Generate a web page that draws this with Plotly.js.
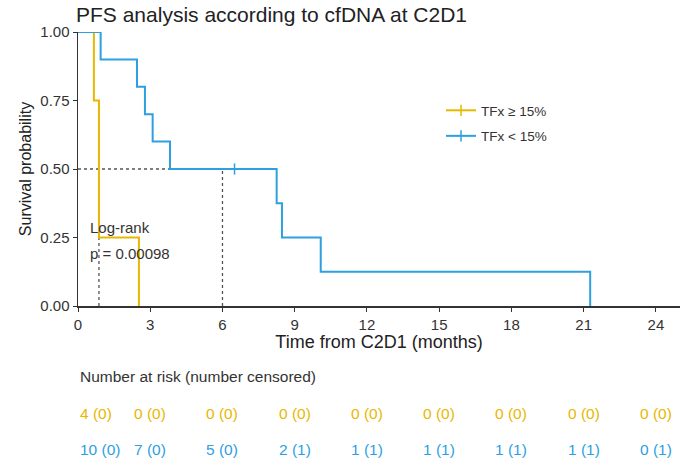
<!DOCTYPE html>
<html><head><meta charset="utf-8">
<script src="https://cdn.plot.ly/plotly-3.0.1.min.js"></script>
<style>body{margin:0;background:#fff}#chart{width:700px;height:476px}</style>
</head><body><div id="chart"></div>
<script>
// Kaplan-Meier step data
const groupNames = ["TFx \u2265 15%", "TFx < 15%"];
const groupColors = ["#E7B800", "#2E9FDF"];
const highTimes = [0, 0.66, 0.87, 2.53];
const highSurv = [1, 0.75, 0.25, 0];
const lowTimes = [0, 0.94, 2.45, 2.78, 3.10, 3.82, 8.25, 8.47, 10.08, 21.27];
const lowSurv = [1, 0.9, 0.8, 0.7, 0.6, 0.5, 0.375, 0.25, 0.125, 0];
const lowCensorTimes = [6.5];
const lowCensorSurv = [0.5];
const medianTimes = [0.87, 6.0];
const riskTimes = [0, 3, 6, 9, 12, 15, 18, 21, 24];
const riskHigh = ["4 (0)", "0 (0)", "0 (0)", "0 (0)", "0 (0)", "0 (0)", "0 (0)", "0 (0)", "0 (0)"];
const riskLow = ["10 (0)", "7 (0)", "5 (0)", "2 (1)", "1 (1)", "1 (1)", "1 (1)", "1 (1)", "0 (1)"];
const xTicks = [0, 3, 6, 9, 12, 15, 18, 21, 24];
const yTicks = [0, 0.25, 0.5, 0.75, 1];

const FONT = "Liberation Sans, Arial, sans-serif";
const traces = [];
// median reference lines
const medMax = Math.max(...medianTimes);
traces.push({x: [0, medMax], y: [0.5, 0.5], mode: "lines", line: {color: "#555", dash: "dot", width: 1.3}, showlegend: false, hoverinfo: "skip"});
medianTimes.forEach(m => traces.push({x: [m, m], y: [0, 0.5], mode: "lines", line: {color: "#555", dash: "dot", width: 1.3}, showlegend: false, hoverinfo: "skip"}));
// curves
traces.push({x: highTimes, y: highSurv, mode: "lines", line: {shape: "hv", color: groupColors[0], width: 2}, showlegend: false});
traces.push({x: lowTimes, y: lowSurv, mode: "lines", line: {shape: "hv", color: groupColors[1], width: 2}, showlegend: false});
traces.push({x: lowCensorTimes, y: lowCensorSurv, mode: "markers", marker: {symbol: "line-ns", size: 8, line: {color: groupColors[1], width: 1.5}}, showlegend: false});
// legend entries
groupNames.forEach((n, i) => traces.push({x: [null], y: [null], name: n, legendgroup: "g" + i, mode: "lines+markers", line: {color: groupColors[i], width: 2}, marker: {symbol: "line-ns", size: 8, line: {color: groupColors[i], width: 1.5}}}));

const plotH = 274;
function py(pix) { return (306 - pix) / plotH; }
const annotations = [
  {text: "Log-rank", x: 0.42, y: 0.285, xref: "x", yref: "y", xanchor: "left", yanchor: "middle", showarrow: false, font: {family: FONT, size: 15, color: "#333"}},
  {text: "p = 0.00098", x: 0.42, y: 0.19, xref: "x", yref: "y", xanchor: "left", yanchor: "middle", showarrow: false, font: {family: FONT, size: 15, color: "#333"}},
  {text: "Number at risk (number censored)", x: 0, y: py(376), xref: "x", yref: "paper", xanchor: "left", yanchor: "middle", showarrow: false, font: {family: FONT, size: 15.5, color: "#333"}}
];
riskTimes.forEach((t, i) => {
  const anchor = i === 0 ? "left" : "center";
  annotations.push({text: riskHigh[i], x: t, y: py(413), xref: "x", yref: "paper", xanchor: anchor, yanchor: "middle", showarrow: false, font: {family: FONT, size: 15.5, color: groupColors[0]}});
  annotations.push({text: riskLow[i], x: t, y: py(449), xref: "x", yref: "paper", xanchor: anchor, yanchor: "middle", showarrow: false, font: {family: FONT, size: 15.5, color: groupColors[1]}});
});

const layout = {
  width: 700, height: 476,
  margin: {l: 78, r: 20, t: 32, b: 170},
  paper_bgcolor: "#fff", plot_bgcolor: "#fff",
  font: {family: FONT, color: "#333"},
  title: {text: "PFS analysis according to cfDNA at C2D1", x: 76/700, xanchor: "left", y: 0.985, yanchor: "top", font: {family: FONT, size: 21, color: "#222"}},
  xaxis: {range: [0, 25.0], tickvals: xTicks, ticktext: xTicks.map(String), showgrid: false, zeroline: false, showline: true, linecolor: "#333", linewidth: 1.5, ticks: "outside", ticklen: 4, tickcolor: "#333", tickfont: {size: 15, color: "#333"},
    title: {text: "Time from C2D1 (months)", font: {size: 18, color: "#222"}, standoff: 2}},
  yaxis: {range: [0, 1], tickvals: yTicks, ticktext: yTicks.map(v => v.toFixed(2)), showgrid: false, zeroline: false, showline: true, linecolor: "#333", linewidth: 1.5, ticks: "outside", ticklen: 4, tickcolor: "#333", tickfont: {size: 15, color: "#333"},
    title: {text: "Survival probability", font: {size: 16, color: "#222"}, standoff: 4}},
  legend: {x: 0.603, y: 0.77, xanchor: "left", yanchor: "top", font: {size: 13.5, color: "#333"}, bgcolor: "rgba(0,0,0,0)", tracegroupgap: 5, itemwidth: 30},
  annotations: annotations
};
Plotly.newPlot("chart", traces, layout, {displayModeBar: false, staticPlot: true});
</script></body></html>
